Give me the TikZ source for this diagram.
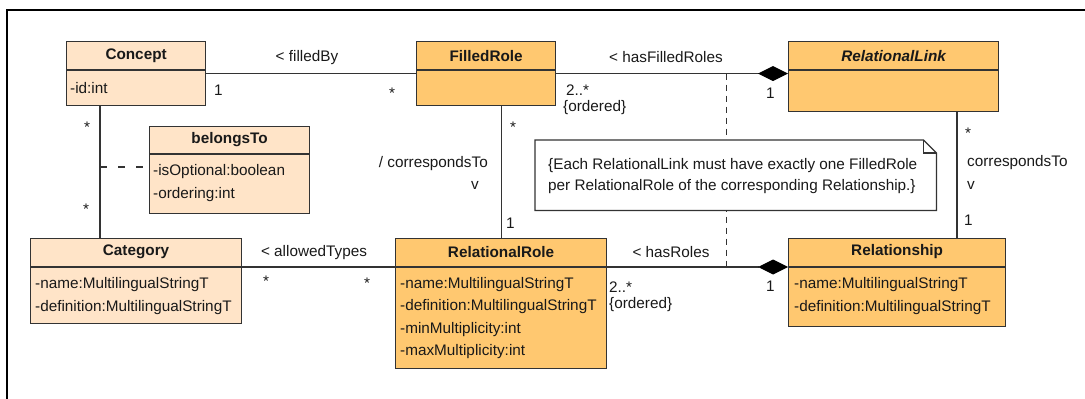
\documentclass[tikz,border=0pt]{standalone}
\usepackage{fontspec}
\setmainfont{Liberation Sans}
\usetikzlibrary{arrows.meta,calc}
\definecolor{peach}{RGB}{255,228,200}
\definecolor{orng}{RGB}{255,200,112}
\definecolor{edgec}{RGB}{51,51,51}
\definecolor{txt}{RGB}{25,25,25}
\begin{document}
\begin{tikzpicture}[x=1pt,y=-1pt,
  every node/.style={font=\fontsize{15.3}{18}\selectfont, text=txt},
  cls/.style={draw=edgec, line width=1.2pt, inner sep=0pt, anchor=north west},
  ttl/.style={font=\fontsize{15.3}{18}\selectfont\bfseries, inner sep=0pt},
  attr/.style={anchor=west, inner sep=0pt},
  lbl/.style={inner sep=0pt},
  conn/.style={draw=edgec, line width=1.2pt},
  comp/.style={conn, -{Diamond[length=30pt,width=15pt,fill=black,color=black]}},
  dsh/.style={draw=edgec, line width=1.2pt, dash pattern=on 6pt off 5pt},
  dshb/.style={draw=edgec, line width=1.2pt, dash pattern=on 7pt off 11pt}]
\useasboundingbox (0,0) rectangle (1085,399);
% frame
\draw[line width=2pt] (7,399) -- (7,10) -- (1085,10);

% boxes
\node[cls, fill=peach, minimum width=139pt, minimum height=64pt] (concept) at (66,41) {};
\node[cls, fill=orng, minimum width=139pt, minimum height=64pt] (filledrole) at (416,41) {};
\node[cls, fill=orng, minimum width=210pt, minimum height=70pt] (rellink) at (788,41) {};
\node[cls, fill=peach, minimum width=160pt, minimum height=87pt] (belongsto) at (149,126) {};
\node[cls, fill=peach, minimum width=211pt, minimum height=85pt] (category) at (30,238) {};
\node[cls, fill=orng, minimum width=211pt, minimum height=130pt] (relrole) at (395,238) {};
\node[cls, fill=orng, minimum width=217pt, minimum height=88pt] (relship) at (788,238) {};

% dividers
\draw[conn] ($(concept.north west)+(0,29)$) -- ($(concept.north east)+(0,29)$);
\draw[conn] ($(filledrole.north west)+(0,29)$) -- ($(filledrole.north east)+(0,29)$);
\draw[conn] ($(rellink.north west)+(0,29)$) -- ($(rellink.north east)+(0,29)$);
\draw[conn] ($(belongsto.north west)+(0,28)$) -- ($(belongsto.north east)+(0,28)$);
\draw[conn] ($(category.north west)+(0,29)$) -- ($(category.north east)+(0,29)$);
\draw[conn] ($(relrole.north west)+(0,29)$) -- ($(relrole.north east)+(0,29)$);
\draw[conn] ($(relship.north west)+(0,29)$) -- ($(relship.north east)+(0,29)$);

% titles
\node[ttl] (conceptT) at ($(concept.north)+(0,15)$) {Concept};
\node[ttl] (filledroleT) at ($(filledrole.north)+(0,15)$) {FilledRole};
\node[ttl, font=\fontsize{15.3}{18}\selectfont\bfseries\itshape] (rellinkT) at ($(rellink.north)+(0,15)$) {RelationalLink};
\node[ttl] (belongstoT) at ($(belongsto.north)+(0,14)$) {belongsTo};
\node[ttl] (categoryT) at ($(category.north)+(0,14)$) {Category};
\node[ttl] (relroleT) at ($(relrole.north)+(0,14)$) {RelationalRole};
\node[ttl] (relshipT) at ($(relship.north)+(0,14)$) {Relationship};

% attributes
\node[attr] (conceptA1) at ($(concept.north west)+(4,47)$) {-id:int};
\node[attr] (belongstoA1) at ($(belongsto.north west)+(4,46)$) {-isOptional:boolean};
\node[attr] (belongstoA2) at ($(belongsto.north west)+(4,69)$) {-ordering:int};
\node[attr] (categoryA1) at ($(category.north west)+(5,47)$) {-name:MultilingualStringT};
\node[attr] (categoryA2) at ($(category.north west)+(5,70)$) {-definition:MultilingualStringT};
\node[attr] (relroleA1) at ($(relrole.north west)+(5,47)$) {-name:MultilingualStringT};
\node[attr] (relroleA2) at ($(relrole.north west)+(5,69)$) {-definition:MultilingualStringT};
\node[attr] (relroleA3) at ($(relrole.north west)+(5,92)$) {-minMultiplicity:int};
\node[attr] (relroleA4) at ($(relrole.north west)+(5,114)$) {-maxMultiplicity:int};
\node[attr] (relshipA1) at ($(relship.north west)+(6,47)$) {-name:MultilingualStringT};
\node[attr] (relshipA2) at ($(relship.north west)+(6,70)$) {-definition:MultilingualStringT};

% connectors
\draw[conn] (concept.east) -- (concept.east -| filledrole.west);
\draw[comp] (filledrole.east) -- (filledrole.east -| rellink.west);
\draw[comp] ($(relrole.north east)+(0,29)$) -- ($(relship.north west)+(0,29)$);
\draw[conn] ($(category.north east)+(0,29)$) -- ($(relrole.north west)+(0,29)$);
\coordinate (cc) at ($(concept.south west)+(34,0)$);
\draw[conn] (cc) -- (cc |- category.north);
\draw[conn] (relrole.north |- filledrole.south) -- (relrole.north);
\coordinate (rr) at ($(rellink.south west)+(169,0)$);
\draw[conn] (rr) -- (rr |- relship.north);
\coordinate (bt) at ($(belongsto.north west)+(0,41)$);
\draw[dshb] (cc |- bt) -- (bt);

% note with dashed anchor line
\coordinate (dA) at ($(filledrole.east)+(170,0)$);
\coordinate (dB) at ($(relrole.north east)+(119,29)$);
\draw[dsh] (dA) -- (dB);
\node[inner sep=0pt, minimum width=401pt, minimum height=70pt, anchor=north west] (note) at (535,140) {};
\filldraw[fill=white, draw=edgec, line width=1.2pt] (note.north west) -- ($(note.north east)+(-13,0)$) -- ($(note.north east)+(0,13)$) -- (note.south east) -- (note.south west) -- cycle;
\draw[conn] ($(note.north east)+(-13,0)$) -- ($(note.north east)+(-13,13)$) -- ($(note.north east)+(0,13)$);
\node[attr] (noteL1) at ($(note.north west)+(13,26)$) {\{Each RelationalLink must have exactly one FilledRole};
\node[attr] (noteL2) at ($(note.north west)+(13,47)$) {per RelationalRole of the corresponding Relationship.\}};

% association labels
\node[lbl] (l1) at (307,58) {< filledBy};
\node[lbl, anchor=west] (l2) at (214,90) {1};
\node[lbl] (l3) at (392,93) {*};
\node[lbl] (l4) at (666,57) {< hasFilledRoles};
\node[lbl, anchor=west] (l5) at (566,90) {2..*};
\node[lbl, anchor=west] (l6) at (563,108) {\{ordered\}};
\node[lbl, anchor=west] (l7) at (766,93) {1};
\node[lbl] (l8) at (513,127) {*};
\node[lbl, anchor=east] (l9) at (488,164) {/ correspondsTo};
\node[lbl] (l10) at (475,185) {v};
\node[lbl, anchor=west] (l11) at (506,223) {1};
\node[lbl, anchor=west] (l12) at (965,133) {*};
\node[lbl, anchor=west] (l13) at (967,163) {correspondsTo};
\node[lbl, anchor=west] (l14) at (967,185) {v};
\node[lbl, anchor=west] (l15) at (964,220) {1};
\node[lbl] (l16) at (671,252) {< hasRoles};
\node[lbl, anchor=west] (l17) at (609,287) {2..*};
\node[lbl, anchor=west] (l18) at (609,305) {\{ordered\}};
\node[lbl, anchor=west] (l19) at (766,286) {1};
\node[lbl] (l20) at (314,253) {< allowedTypes};
\node[lbl] (l21) at (266,281) {*};
\node[lbl] (l22) at (367,283) {*};
\node[lbl] (l23) at (87,127) {*};
\node[lbl] (l24) at (86,209) {*};
\end{tikzpicture}
\end{document}
